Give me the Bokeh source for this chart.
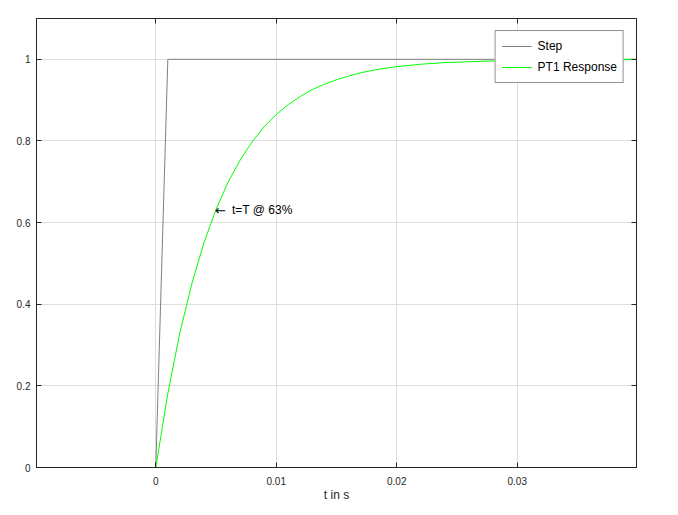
from bokeh.plotting import figure
from bokeh.models import Range1d, FixedTicker, LinearAxis, Legend, LegendItem
from bokeh.core.properties import value
from bokeh.embed import file_html
from bokeh.resources import INLINE

# ---- data ----
t_step = [-0.0099, 0.0, 0.001, 0.0399]
y_step = [0.0, 0.0, 1.0, 1.0]

t_pt1 = [-0.0099, 0.0, 0.001, 0.002, 0.003, 0.004, 0.005, 0.006, 0.007, 0.008,
         0.009, 0.010, 0.011, 0.012, 0.013, 0.014, 0.015, 0.016, 0.017, 0.018,
         0.019, 0.020, 0.022, 0.024, 0.026, 0.028, 0.030, 0.033, 0.036, 0.0399]
y_pt1 = [0.0, 0.0, 0.181, 0.330, 0.451, 0.551, 0.632, 0.699, 0.753, 0.798,
         0.835, 0.865, 0.889, 0.909, 0.926, 0.939, 0.950, 0.959, 0.967, 0.973,
         0.978, 0.982, 0.988, 0.992, 0.994, 0.996, 0.998, 0.999, 0.999, 1.0]

x_ticks = [0, 0.01, 0.02, 0.03]
x_tick_labels = ["0", "0.01", "0.02", "0.03"]
y_ticks = [0, 0.2, 0.4, 0.6, 0.8, 1.0]
y_tick_labels = ["0", "0.2", "0.4", "0.6", "0.8", "1"]

annot_x = [0.005]
annot_y = [0.63]
annot_arrow = ["\u2190"]
annot_text = ["t=T @ 63%"]

series_names = ["Step", "PT1 Response"]
x_label = "t in s"

# ---- styling ----
FONT = "Liberation Sans"
AX = "#262626"
GRID = "#dedede"

p = figure(frame_width=600, frame_height=449,
           x_range=Range1d(-0.0099, 0.0399), y_range=Range1d(0, 1.1),
           output_backend="svg", toolbar_location=None,
           min_border_left=36, min_border_top=18,
           min_border_right=20, min_border_bottom=44)
p.background_fill_color = "white"
p.border_fill_color = "white"
p.outline_line_color = AX
p.outline_line_width = 1

xt = FixedTicker(ticks=x_ticks)
yt = FixedTicker(ticks=y_ticks)

for ax, tk, labs in ((p.xaxis[0], xt, x_tick_labels), (p.yaxis[0], yt, y_tick_labels)):
    ax.ticker = tk
    ax.major_label_overrides = dict(zip(tk.ticks, labs))
    ax.major_tick_in = 5
    ax.major_tick_out = 0
    ax.minor_tick_in = 0
    ax.minor_tick_out = 0
    ax.axis_line_color = AX
    ax.major_tick_line_color = AX
    ax.major_label_text_color = AX
    ax.major_label_text_font = FONT
    ax.major_label_text_font_size = "10px"
p.yaxis[0].major_label_standoff = 6
p.xaxis[0].major_label_standoff = 9

p.xaxis[0].axis_label = x_label
p.xaxis[0].axis_label_text_font = FONT
p.xaxis[0].axis_label_text_font_size = "12px"
p.xaxis[0].axis_label_text_font_style = "normal"
p.xaxis[0].axis_label_text_color = AX
p.xaxis[0].axis_label_standoff = 0

# mirrored tick axes (ticks only, empty labels)
top = LinearAxis(ticker=FixedTicker(ticks=x_ticks),
                 major_label_overrides={t: "" for t in x_ticks},
                 major_label_standoff=0, major_tick_in=5, major_tick_out=0,
                 minor_tick_in=0, minor_tick_out=0,
                 axis_line_color=AX, major_tick_line_color=AX)
right = LinearAxis(ticker=FixedTicker(ticks=y_ticks),
                   major_label_overrides={t: "" for t in y_ticks},
                   major_label_standoff=0, major_tick_in=5, major_tick_out=0,
                   minor_tick_in=0, minor_tick_out=0,
                   axis_line_color=AX, major_tick_line_color=AX)
p.add_layout(top, "above")
p.add_layout(right, "right")

p.xgrid.ticker = xt
p.ygrid.ticker = yt
p.xgrid.grid_line_color = GRID
p.ygrid.grid_line_color = GRID

r_step = p.line(t_step, y_step, line_color="#808080", line_width=1)
r_pt1 = p.line(t_pt1, y_pt1, line_color="#00ff00", line_width=1)

p.text(x=annot_x, y=annot_y, text=annot_arrow, text_align="left", x_offset=-1,
       text_baseline="middle", text_font=value("DejaVu Sans"), text_font_size="13px",
       text_color="black")
p.text(x=annot_x, y=annot_y, text=annot_text, text_align="left", x_offset=16,
       text_baseline="middle", text_font=value(FONT), text_font_size="12px",
       text_color="black")

legend = Legend(items=[LegendItem(label=series_names[0], renderers=[r_step]),
                       LegendItem(label=series_names[1], renderers=[r_pt1])],
                location="top_right", margin=12, padding=6, spacing=3,
                glyph_width=30, glyph_height=18, label_height=18,
                label_standoff=6, label_text_font=FONT,
                label_text_font_size="12px", label_text_color="black",
                border_line_color=AX, border_line_width=1,
                background_fill_color="white", background_fill_alpha=1.0)
p.add_layout(legend)

open("out.html", "w").write(file_html(p, INLINE))
